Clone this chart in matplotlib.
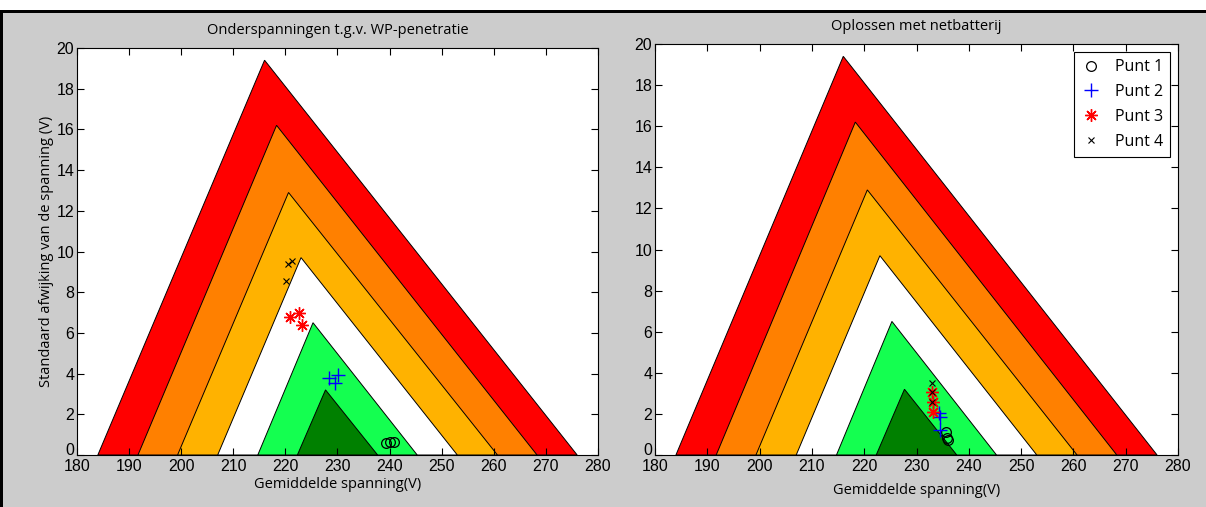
import numpy as np
import matplotlib
matplotlib.use('Agg')
from matplotlib import pyplot as plt
from matplotlib.patches import Polygon, Rectangle
from matplotlib.transforms import ScaledTranslation

# Voltage quality bands (outer to inner): base limits and apex of each triangle
band_lo = [184.0, 191.7, 199.3, 207.0, 214.7, 222.3]
band_hi = [276.0, 268.3, 260.7, 253.0, 245.3, 237.7]
apex_v = [216.0, 218.3, 220.6, 223.0, 225.3, 227.7]
apex_s = [19.4, 16.2, 12.9, 9.7, 6.5, 3.2]
band_colors = ['#ff0000', '#ff8000', '#ffb200', '#ffffff', '#14ff50', '#008000']

# Measured points: mean voltage and standard deviation, without battery
pre_v = {1: [239.3, 240.1, 240.8], 2: [228.4, 229.5, 230.1],
         3: [220.9, 222.6, 223.2], 4: [220.5, 221.3, 220.1]}
pre_s = {1: [0.59, 0.64, 0.64], 2: [3.78, 3.55, 3.93],
         3: [6.78, 6.98, 6.39], 4: [9.40, 9.52, 8.55]}

# Same points with the grid battery
post_v = {1: [235.6, 235.8, 236.1], 2: [234.3, 234.4, 234.5],
          3: [232.9, 233.1, 233.1], 4: [232.9, 233.0, 233.0]}
post_s = {1: [1.13, 0.81, 0.73], 2: [2.03, 1.83, 1.22],
          3: [3.08, 2.56, 2.08], 4: [3.49, 3.08, 2.59]}

labels = ['Punt 1', 'Punt 2', 'Punt 3', 'Punt 4']
styles = {1: dict(marker='o', color='k', mfc='none', ms=7, mew=0.9),
          2: dict(marker='+', color='#0000ff', ms=10, mew=1.0),
          3: dict(marker=(8, 2, 0), color='#ff0000', ms=9, mew=1.0),
          4: dict(marker='x', color='k', ms=5, mew=0.8)}

tick_font = dict(family='Liberation Sans', size=11.5)
text_font = dict(family='Open Sans', size=10.5)


def draw_panel(ax, vals, sigs, title):
    for lo, hi, v, s, c in zip(band_lo, band_hi, apex_v, apex_s, band_colors):
        ax.add_patch(Polygon([(lo, 0), (v, s), (hi, 0)], closed=True,
                             facecolor=c, edgecolor='k', lw=0.7))
    for k in range(1, 5):
        ax.plot(vals[k], sigs[k], ls='none', label=labels[k - 1], **styles[k])
    ax.set_xlim(180, 280)
    ax.set_ylim(0, 20)
    ax.set_xticks(np.arange(180, 281, 10))
    ax.set_yticks(np.arange(0, 21, 2))
    ax.tick_params(direction='in', top=True, right=True, length=5,
                   width=0.8, pad=2)
    ax.tick_params(axis='x', pad=3)
    for lab in ax.get_xticklabels() + ax.get_yticklabels():
        lab.set_fontfamily(tick_font['family'])
        lab.set_fontsize(tick_font['size'])
    # lift the "0" a little so it clears the first x label
    zero = ax.yaxis.get_major_ticks()[0].label1
    zero.set_transform(zero.get_transform() +
                       ScaledTranslation(0, 4 / 72, ax.figure.dpi_scale_trans))
    ax.set_xlabel('Gemiddelde spanning(V)', labelpad=2, **text_font)
    ax.set_title(title, pad=10, **text_font)
    for sp in ax.spines.values():
        sp.set_linewidth(0.8)


fig = plt.figure(figsize=(12.06, 5.07), dpi=100, facecolor='white')

# grey window area with a dark frame on top and left
fig.patches.append(Rectangle((0, 0), 1, 1 - 12 / 507, transform=fig.transFigure,
                             facecolor='#cccccc', edgecolor='none', zorder=-2))
fig.patches.append(Rectangle((0, 1 - 13 / 507), 1, 3 / 507, transform=fig.transFigure,
                             facecolor='k', edgecolor='none', zorder=-1))
fig.patches.append(Rectangle((0, 0), 3 / 1206, 1 - 12 / 507, transform=fig.transFigure,
                             facecolor='k', edgecolor='none', zorder=-1))

ax1 = fig.add_axes([77 / 1206, 52 / 507, 521 / 1206, 407 / 507])
ax2 = fig.add_axes([655 / 1206, 52 / 507, 523 / 1206, 411 / 507])

draw_panel(ax1, pre_v, pre_s, 'Onderspanningen t.g.v. WP-penetratie')
ax1.set_ylabel('Standaard afwijking van de spanning (V)', labelpad=2, **text_font)

draw_panel(ax2, post_v, post_s, 'Oplossen met netbatterij')
ax2.xaxis.labelpad = 6
leg = ax2.legend(loc='upper right', fancybox=False, edgecolor='k', framealpha=1,
                 prop={'family': 'Open Sans', 'size': 11.5}, handlelength=1.2,
                 borderpad=0.45, labelspacing=0.55, handletextpad=0.9,
                 markerfirst=True, borderaxespad=0.5)
leg.get_frame().set_linewidth(0.8)

fig.savefig('out.png', dpi=100)
